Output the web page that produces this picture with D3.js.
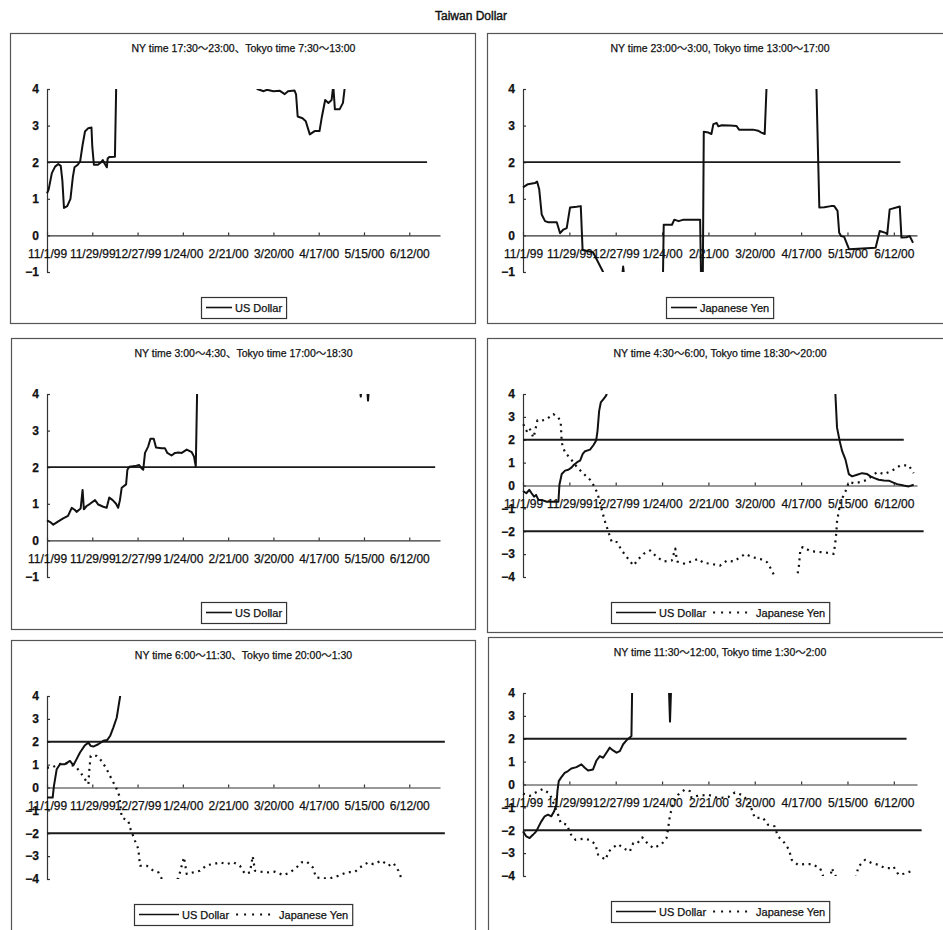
<!DOCTYPE html>
<html>
<head>
<meta charset="utf-8">
<script src="https://cdn.jsdelivr.net/npm/d3@7"></script>
<style>
  body { margin: 0; background: #fff; }
  text { font-family: "Liberation Sans", Arial, "Noto Sans CJK JP", sans-serif; fill: #111; stroke: #111; stroke-width: 0.25px; }
</style>
</head>
<body>
<svg id="chart" width="943" height="930"></svg>
<script>
const chartTitle = "Taiwan Dollar";
const panelTitles = [
  "NY time 17:30～23:00、Tokyo time 7:30～13:00",
  "NY time 23:00～3:00, Tokyo time 13:00～17:00",
  "NY time 3:00～4:30、Tokyo time 17:00～18:30",
  "NY time 4:30～6:00, Tokyo time 18:30～20:00",
  "NY time 6:00～11:30、Tokyo time 20:00～1:30",
  "NY time 11:30～12:00, Tokyo time 1:30～2:00"
];
const seriesNames = ["US Dollar", "Japanese Yen"];
const tickLabels = ["11/1/99", "11/29/99", "12/27/99", "1/24/00", "2/21/00", "3/20/00", "4/17/00", "5/15/00", "6/12/00"];
const startDate = "11/1/99";
const axisEnd = ["7/1/00", "6/26/00"]; // left column, right column
const yDomains = [[-1, 4], [-1, 4], [-1, 4], [-4, 4], [-4, 4], [-4, 4]];
// horizontal reference lines: [value, last day]
const refLines = [
  [[2, 235]],
  [[2, 228]],
  [[2, 240]],
  [[2, 230], [-2, 242]],
  [[2, 246], [-2, 246]],
  [[2, 231.7], [-2, 240.8]]
];

// [days since 11/1/99, value]; values outside the axis range are cut at the plot edge
const usd1 = [[0,1.15],[1,1.25],[3,1.7],[5,1.88],[7,1.95],[8.5,1.9],[9.5,1.5],[10.5,0.75],[12.5,0.8],[14.5,1.0],[16,1.6],[17,1.86],[19,1.93],[20.5,2.02],[22,2.47],[23.5,2.84],[25.5,2.93],[27.5,2.95],[28,2.43],[29,1.93],[31.5,1.93],[33.5,2.0],[34.5,2.06],[35.5,1.97],[37,1.86],[37.5,2.1],[38.5,2.14],[42,2.15],[43,4.6],[129,4.4],[130,4.0],[134,3.94],[136,3.98],[140,3.94],[144,3.95],[147,3.86],[149,3.94],[153,3.96],[154,3.85],[155,3.25],[158,3.2],[160,3.12],[162.5,2.76],[165.5,2.85],[168.5,2.85],[170,3.25],[172,3.7],[174,3.62],[176,3.7],[177,4.1],[178,3.45],[181,3.45],[183,3.62],[184,4.0],[185,4.6],[243,4.8]];
const yen2 = [[0,1.31],[3,1.4],[7.2,1.43],[8.5,1.47],[9.8,1.26],[11.3,0.57],[13.3,0.39],[15.3,0.36],[20.4,0.36],[22.4,0.06],[24.4,0.16],[26.4,0.2],[28.4,0.76],[32.4,0.78],[34.9,0.8],[36,-0.4],[42.3,-0.46],[48.4,-1.0],[49,-1.3],[59.5,-1.3],[60.5,-0.85],[61.5,-1.3],[84.5,-1.3],[85,0.29],[90,0.29],[91.4,0.43],[94,0.39],[97,0.43],[107,0.43],[107.6,-1.3],[108.6,-1.3],[109.2,2.83],[112,2.81],[113.8,2.77],[115,3.04],[117,3.07],[118,2.98],[120,3.01],[125,3.0],[129,2.99],[130.5,2.89],[139,2.89],[142,2.86],[144,2.81],[146,2.77],[147.5,4.5],[177,4.5],[179,0.76],[182,0.77],[186,0.8],[188,0.8],[190,0.67],[191,0.07],[192.2,-0.02],[194,-0.04],[197,-0.38],[213,-0.34],[215.5,0.12],[219,0.07],[220,0.03],[221.5,0.71],[227.6,0.79],[228.6,-0.06],[231.6,-0.05],[233.6,-0.02],[235.6,-0.2]];
const usd3 = [[0,0.55],[2,0.5],[3.9,0.43],[7,0.52],[10,0.6],[13,0.67],[15.3,0.89],[17.3,0.83],[18.3,0.78],[20.8,0.87],[22,1.38],[22.8,0.85],[24.5,0.94],[26.6,1.0],[29.7,1.1],[31.7,0.98],[34.8,0.92],[36.9,0.89],[38.5,1.17],[40.6,1.1],[42.7,1.0],[44,0.89],[45.1,1.1],[46.2,1.44],[48.9,1.53],[49.7,1.93],[50.9,2.01],[54.4,2.03],[57,2.06],[58.5,1.97],[59.5,1.93],[60.6,2.39],[62.6,2.57],[64,2.78],[66,2.78],[67.4,2.54],[70.9,2.52],[72.9,2.52],[74.4,2.39],[77,2.32],[79.2,2.39],[81.2,2.4],[83.3,2.39],[86.4,2.48],[89.5,2.41],[90.9,2.29],[92,2.02],[93,4.5],[193,4.4],[194,3.93],[195,4.4],[197.5,4.4],[198.5,3.82],[199.5,4.4],[243,4.6]];
const usd4 = [[0,-0.24],[2,-0.34],[3.8,-0.19],[5.2,-0.34],[6.7,-0.49],[7.9,-0.41],[9.3,-0.63],[11.3,-0.63],[14.3,-0.71],[21.4,-0.71],[22,0.03],[23.4,0.5],[25.4,0.65],[27.4,0.69],[29.4,0.79],[30.8,0.91],[32.9,1.03],[34.5,1.09],[36.1,1.38],[37.5,1.5],[40.5,1.57],[42.5,1.76],[44.2,1.97],[45,2.38],[46,3.26],[47,3.63],[48.6,3.78],[50.2,3.93],[51,4.1],[52,4.5],[188,4.5],[188.7,4.0],[189.7,2.53],[191.3,1.94],[192.8,1.5],[194.8,1.13],[196.8,0.5],[198.8,0.4],[201.8,0.47],[204.8,0.54],[207.9,0.5],[209.9,0.4],[212.3,0.32],[214.9,0.25],[218,0.22],[221,0.21],[223,0.15],[226,0.06],[230,0.0],[233,-0.04],[236,0.03]];
const yen4 = [[0.2,2.68],[2.2,2.38],[3.8,2.53],[6.3,2.09],[7.3,2.38],[8.7,2.85],[10.7,2.82],[14.3,2.9],[18.3,3.12],[21.4,2.97],[22.8,2.75],[23.4,1.87],[25.4,1.43],[28.4,1.21],[31.4,0.91],[35.5,0.59],[40.5,0.25],[42.5,0.03],[45,-0.34],[47.6,-1.07],[49.6,-1.59],[51.6,-2.03],[53.6,-2.47],[56.7,-2.47],[59.7,-2.84],[62.7,-3.13],[66.7,-3.5],[69.8,-3.21],[72.8,-2.99],[76.8,-2.84],[80.9,-3.13],[84.9,-3.32],[89.9,-3.28],[92,-2.76],[93,-3.32],[98,-3.43],[103,-3.28],[106,-3.21],[109,-3.38],[114,-3.43],[119,-3.5],[123.2,-3.28],[127.2,-3.32],[131.3,-3.13],[134.3,-2.99],[138.3,-3.13],[143.4,-3.21],[147.4,-3.35],[150.4,-3.72],[155,-4.5],[162,-4.5],[165.5,-4.0],[166.6,-3.57],[167.6,-2.76],[169.2,-2.69],[173.6,-2.87],[179.7,-2.91],[183.7,-2.94],[187.7,-2.99],[188.7,-2.47],[189.3,-2.03],[189.7,-1.56],[191.8,-0.71],[194.8,-0.26],[196.8,0.15],[199.8,0.1],[203.9,0.15],[207.9,0.25],[214,0.59],[218,0.5],[223,0.65],[228,0.88],[233,0.88],[236,0.54]];
const usd5 = [[0,-0.44],[3.5,-0.44],[4.3,0.07],[6,0.8],[8,1.02],[11.1,1.02],[14.2,1.16],[16.3,0.97],[18.3,1.24],[20.4,1.53],[23.5,1.85],[25.6,1.96],[27,1.82],[28.6,1.79],[31.7,1.89],[34.8,2.04],[37.3,2.08],[39,2.25],[41,2.62],[43.1,3.05],[44.1,3.49],[45.1,3.93],[46,4.4],[243,5]];
const yen5 = [[0,0.87],[3.1,0.87],[7,1.02],[12.2,1.06],[16.3,0.95],[18.3,0.87],[20.8,0.65],[23.5,0.36],[25.6,0.15],[26.2,0.8],[27,1.38],[28.2,1.4],[30.7,1.38],[33.8,1.16],[36.9,0.8],[40,0.36],[42.7,0.0],[44.7,-0.36],[46.2,-1.31],[50.3,-1.46],[51.3,-1.75],[54.4,-2.33],[56.5,-2.69],[57.5,-3.42],[61.6,-3.42],[65.8,-3.64],[68.9,-3.71],[74,-4.4],[81.2,-3.97],[83.3,-3.42],[84.7,-3.05],[86.4,-3.78],[90.5,-3.71],[94.6,-3.64],[98.8,-3.39],[102.9,-3.35],[107,-3.27],[111.1,-3.35],[115.2,-3.27],[119.3,-3.42],[122.4,-3.78],[125.5,-3.71],[127.2,-3.0],[128.6,-3.64],[131.7,-3.68],[136.9,-3.71],[140.9,-3.68],[146.1,-3.83],[150.3,-3.71],[154.4,-3.49],[157.5,-3.27],[160.6,-3.24],[164.3,-3.49],[166.4,-3.93],[170.9,-3.97],[175,-3.97],[180.2,-3.86],[185.3,-3.71],[190.5,-3.68],[193.6,-3.49],[198.7,-3.27],[201.8,-3.35],[206.9,-3.2],[211.1,-3.42],[214.2,-3.3],[217.3,-3.64],[219.3,-4.0]];
const usd6 = [[0,-2.05],[2,-2.27],[4,-2.34],[6,-2.2],[8,-2.05],[9.5,-1.83],[11.1,-1.61],[13.1,-1.39],[15.1,-1.32],[17.1,-1.39],[18.8,-1.17],[20.2,-0.88],[20.8,-0.29],[21.6,0.15],[23.2,0.32],[25.2,0.51],[27.2,0.59],[29.2,0.7],[32.3,0.76],[35.3,0.88],[37.3,0.73],[39.3,0.61],[42.3,0.66],[44.4,1.05],[46.4,1.24],[48.4,1.17],[50.4,1.39],[52.4,1.61],[54.4,1.49],[56.5,1.39],[58.5,1.46],[60.5,1.76],[62.5,1.93],[64.5,2.05],[65.5,2.12],[66,4.5],[88,4.5],[88.8,2.75],[89.6,4.5],[243,5]];
const yen6 = [[0,-0.4],[4,-0.5],[9,-0.3],[12,-0.2],[16.2,-0.41],[21.2,-1.32],[22.8,-1.68],[26.8,-1.76],[28.2,-2.12],[31.7,-2.42],[36.3,-2.37],[40.3,-2.42],[43.7,-2.61],[45.4,-3.07],[49.8,-3.29],[51.8,-2.93],[54.4,-2.75],[57.5,-2.61],[60.5,-2.78],[64.5,-2.93],[66.6,-2.56],[69.2,-2.56],[72,-2.31],[75.6,-2.61],[78.7,-2.78],[83.7,-2.61],[86.7,-2.34],[87.7,-1.9],[88.7,-1.39],[90.7,-0.8],[93.8,-0.44],[97.8,-0.22],[100.8,-0.29],[101.8,-0.58],[105,-0.5],[112,-0.45],[118,-0.6],[124,-0.55],[128,-0.35],[132,-0.45],[136,-0.7],[138,-1.05],[140,-1.46],[145,-1.46],[148,-1.76],[152,-1.83],[154,-2.27],[157.3,-2.49],[160.7,-2.85],[162.3,-3.29],[166,-3.51],[170,-3.48],[174.4,-3.48],[179.5,-3.66],[181,-3.95],[183,-4.4],[185,-4.4],[186.5,-3.66],[188.5,-3.95],[192,-4.4],[200,-4.4],[202.6,-3.59],[206.7,-3.29],[210.7,-3.44],[214.8,-3.51],[218.8,-3.66],[221.8,-3.66],[223.8,-3.59],[226.9,-3.95],[230,-3.9],[234.9,-3.78]];

// which series each panel shows: [name index, data, dotted]
const panelSeries = [
  [[0, usd1, false]],
  [[1, yen2, false]],
  [[0, usd3, false]],
  [[0, usd4, false], [1, yen4, true]],
  [[0, usd5, false], [1, yen5, true]],
  [[0, usd6, false], [1, yen6, true]]
];

// layout
const boxes = [
  {x: 10, y: 33, w: 465, h: 290, col: 0},
  {x: 487, y: 33, w: 460, h: 290, col: 1},
  {x: 11, y: 338, w: 464, h: 291, col: 0},
  {x: 487, y: 338, w: 460, h: 294, col: 1},
  {x: 11, y: 640, w: 464, h: 300, col: 0},
  {x: 488, y: 637, w: 460, h: 300, col: 1}
];
const cols = [{left: 47, right: 440}, {left: 523, right: 917}];

const parseTick = d3.utcParse("%m/%d/%y");
const day0 = parseTick(startDate);
const toDate = d => new Date(day0.getTime() + d * 864e5);
const tickDates = tickLabels.map(parseTick);

const svg = d3.select("#chart");
svg.append("rect").attr("width", 943).attr("height", 930).attr("fill", "#fff");

svg.append("text")
  .attr("x", 471).attr("y", 20)
  .attr("text-anchor", "middle")
  .style("font-size", "12px")
  .style("stroke-width", "0.4px")
  .text(chartTitle);

boxes.forEach((b, i) => {
  const c = cols[b.col];
  const g = svg.append("g");
  const dom = yDomains[i];

  g.append("rect")
    .attr("x", b.x + 0.5).attr("y", b.y + 0.5)
    .attr("width", b.w).attr("height", b.h)
    .attr("fill", "none").attr("stroke", "#555").attr("stroke-width", 1.2);

  g.append("text")
    .attr("x", (c.left + c.right) / 2).attr("y", b.y + 19)
    .attr("text-anchor", "middle")
    .style("font-size", "10.5px")
    .text(panelTitles[i]);

  const x = d3.scaleUtc()
    .domain([day0, parseTick(axisEnd[b.col])])
    .range([c.left, c.right]);
  const y = d3.scaleLinear()
    .domain(dom)
    .range([b.y + 239, b.y + 56]);

  // y axis
  const ya = g.append("g")
    .attr("transform", "translate(" + c.left + ",0)")
    .call(d3.axisLeft(y)
      .tickValues(d3.range(dom[0], dom[1] + 1))
      .tickFormat(d3.format("d"))
      .tickSizeInner(-3).tickSizeOuter(0).tickPadding(8));
  ya.selectAll("text").style("font-size", "12px").style("font-weight", "bold").attr("fill", "#111");

  // x axis crossing at 0
  const xa = g.append("g")
    .attr("transform", "translate(0," + y(0) + ")")
    .call(d3.axisBottom(x)
      .tickValues(tickDates)
      .tickFormat((d, k) => tickLabels[k])
      .tickSizeInner(-3).tickSizeOuter(0).tickPadding(14));
  xa.selectAll("text").style("font-size", "12px").attr("fill", "#111");
  g.selectAll(".domain, .tick line").attr("stroke", "#333").attr("stroke-width", 1.2);
  g.selectAll(".tick text").attr("font-family", null);

  // reference lines
  refLines[i].forEach(r => {
    g.append("line")
      .attr("x1", c.left).attr("x2", x(toDate(r[1])))
      .attr("y1", y(r[0])).attr("y2", y(r[0]))
      .attr("stroke", "#1a1a1a").attr("stroke-width", 1.8);
  });

  // series, cut at the plot area
  const clipId = "clip" + i;
  svg.append("clipPath").attr("id", clipId)
    .append("rect")
    .attr("x", c.left - 4).attr("y", y(dom[1]))
    .attr("width", c.right - c.left + 30).attr("height", y(dom[0]) - y(dom[1]));

  const line = d3.line()
    .x(d => x(toDate(d[0])))
    .y(d => y(d[1]));

  panelSeries[i].forEach(s => {
    g.append("path")
      .datum(s[1])
      .attr("clip-path", "url(#" + clipId + ")")
      .attr("fill", "none")
      .attr("stroke", "#111")
      .attr("stroke-width", s[2] ? 2.2 : 2)
      .attr("stroke-dasharray", s[2] ? "2,4.5" : null)
      .attr("stroke-linejoin", "round")
      .attr("d", line);
  });

  // legend
  const lg = g.append("g");
  const sampleLen = panelSeries[i].length > 1 ? 40 : 26;
  let cx = 5;
  panelSeries[i].forEach((s, k) => {
    if (k > 0) cx += 7;
    lg.append("line")
      .attr("x1", cx).attr("x2", cx + sampleLen)
      .attr("y1", 10.5).attr("y2", 10.5)
      .attr("stroke", "#111").attr("stroke-width", s[2] ? 2.2 : 1.6)
      .attr("stroke-dasharray", s[2] ? "2,6" : null);
    cx += sampleLen + 3;
    const t = lg.append("text")
      .attr("x", cx).attr("y", 14.5)
      .style("font-size", "11px")
      .text(seriesNames[s[0]]);
    cx += t.node().getComputedTextLength();
  });
  cx += 4;
  lg.insert("rect", ":first-child")
    .attr("x", 0.5).attr("y", 0.5)
    .attr("width", cx).attr("height", 21)
    .attr("fill", "#fff").attr("stroke", "#333").attr("stroke-width", 1.2);
  lg.attr("transform", "translate(" + Math.round((c.left + c.right) / 2 - cx / 2) + "," + (b.y + 264) + ")");
});
</script>
</body>
</html>
